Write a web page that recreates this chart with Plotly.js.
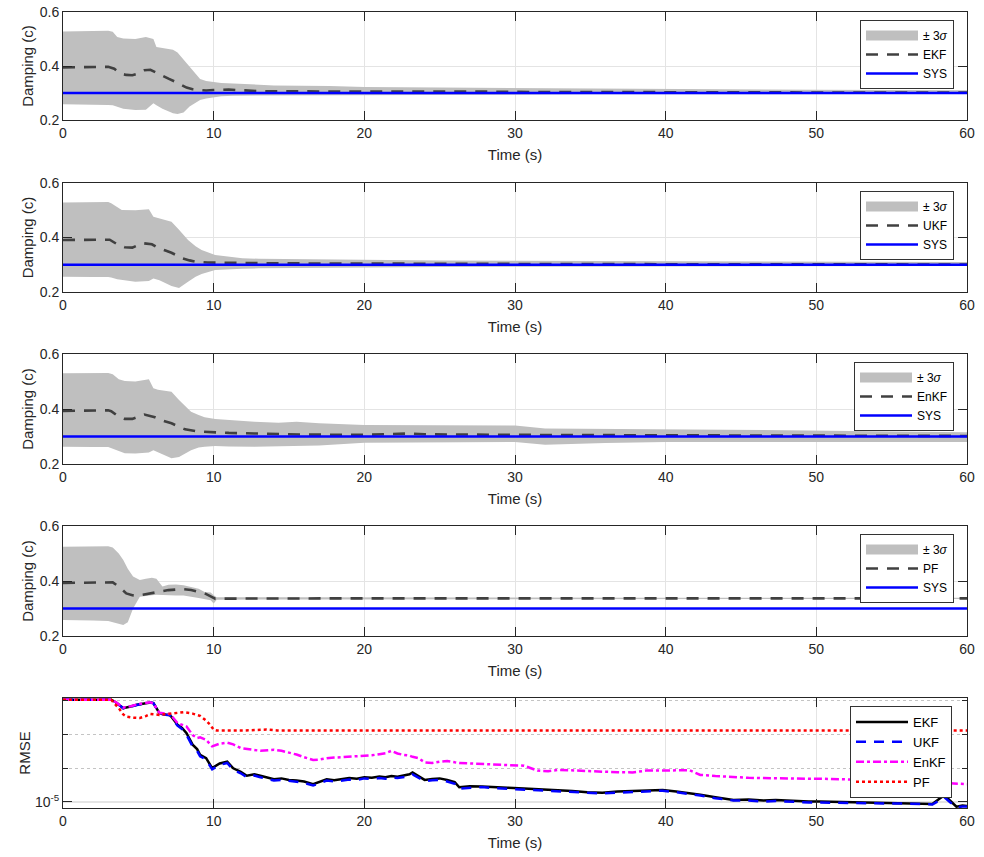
<!DOCTYPE html>
<html>
<head>
<meta charset="utf-8">
<script src="https://cdn.plot.ly/plotly-3.0.1.min.js"></script>
<style>html,body{margin:0;padding:0;background:#fff;}#chart{width:984px;height:857px;}</style>
</head>
<body>
<div id="chart"></div>
<script>
// ---------------- DATA ----------------
const sysTime = [0, 60];
const sysValue = [0.3, 0.3];

// Panel 1: EKF
const bandTime1 = [0,1,2,3,3.3,3.6,4.0,4.8,5.5,6.0,6.2,6.6,7.0,7.3,7.6,8.0,8.4,8.8,9.1,9.5,10.0,10.5,11.3,12.5,14,17.7,20,25,30,35,40,45,50,55,60];
const bandUpper1 = [0.528,0.529,0.530,0.531,0.527,0.507,0.502,0.500,0.507,0.500,0.470,0.466,0.464,0.460,0.450,0.423,0.395,0.368,0.352,0.344,0.340,0.337,0.335,0.331,0.328,0.326,0.322,0.320,0.318,0.316,0.314,0.313,0.312,0.311,0.310];
const bandLower1 = [0.258,0.257,0.257,0.256,0.255,0.248,0.242,0.237,0.238,0.262,0.255,0.242,0.232,0.225,0.222,0.228,0.250,0.265,0.274,0.280,0.285,0.288,0.290,0.291,0.292,0.293,0.293,0.294,0.294,0.295,0.295,0.296,0.296,0.296,0.297];
const estTime1 = [0,1,2,3,3.4,3.8,4.2,4.6,5.0,5.4,5.8,6.2,6.6,7.0,7.4,7.8,8.2,8.6,9.0,9.5,10,10.5,11,11.5,12,13,14,16,18,20,22,24,26,28,30,35,40,45,50,55,60];
const estEKF = [0.395,0.395,0.396,0.397,0.390,0.372,0.367,0.366,0.372,0.384,0.386,0.374,0.364,0.353,0.343,0.332,0.320,0.314,0.311,0.309,0.311,0.312,0.313,0.311,0.309,0.307,0.306,0.306,0.307,0.307,0.306,0.306,0.305,0.305,0.304,0.303,0.303,0.302,0.302,0.302,0.302];

// Panel 2: UKF
const bandTime2 = [0,1,2,3,3.2,3.6,3.9,4.8,5.7,6.0,6.4,7.2,7.7,8.3,8.8,9.2,10.1,11.0,11.9,13,16,20,25,30,35,40,45,50,55,60];
const bandUpper2 = [0.528,0.529,0.529,0.530,0.526,0.510,0.501,0.500,0.504,0.476,0.470,0.458,0.428,0.391,0.368,0.354,0.336,0.329,0.324,0.322,0.320,0.318,0.316,0.315,0.314,0.313,0.312,0.311,0.310,0.310];
const bandLower2 = [0.256,0.256,0.255,0.255,0.253,0.247,0.243,0.238,0.240,0.250,0.243,0.222,0.215,0.238,0.256,0.266,0.281,0.283,0.285,0.287,0.290,0.291,0.292,0.293,0.293,0.294,0.294,0.295,0.295,0.295];
const estTime2 = [0,1,2,3,3.1,3.6,4.1,4.6,5.0,5.3,5.9,6.3,6.8,7.2,7.6,7.9,8.4,8.8,9.6,11,12.8,15,20,25,30,40,50,60];
const estUKF = [0.391,0.391,0.392,0.393,0.392,0.375,0.364,0.363,0.372,0.379,0.375,0.362,0.352,0.344,0.333,0.324,0.316,0.311,0.308,0.308,0.306,0.305,0.305,0.304,0.303,0.302,0.302,0.301];

// Panel 3: EnKF
const bandTime3 = [0,1,2,3,3.3,3.7,4.1,4.8,5.7,6.0,6.3,7.2,7.7,8.1,8.5,9.0,9.4,10.1,11,12.7,14.3,15.5,17,20,24.7,30,32,36,40,45,49.5,55,60];
const bandUpper3 = [0.530,0.530,0.531,0.531,0.526,0.508,0.502,0.500,0.508,0.475,0.470,0.463,0.433,0.412,0.390,0.378,0.370,0.364,0.360,0.354,0.350,0.354,0.348,0.342,0.341,0.340,0.329,0.328,0.327,0.325,0.322,0.318,0.315];
const bandLower3 = [0.263,0.263,0.262,0.262,0.258,0.248,0.239,0.238,0.242,0.250,0.244,0.221,0.225,0.238,0.250,0.260,0.263,0.265,0.264,0.263,0.265,0.265,0.267,0.277,0.277,0.280,0.270,0.276,0.280,0.280,0.280,0.280,0.280];
const estTime3 = [0,1,2,3,3.2,3.6,4.1,4.6,5.0,5.4,6.1,6.6,7.2,7.6,8.1,9.0,10.1,11,12.7,16,20,22,23,24,27,30,35,40,50,60];
const estEnKF = [0.393,0.393,0.394,0.395,0.392,0.376,0.364,0.364,0.372,0.380,0.370,0.358,0.348,0.338,0.326,0.318,0.314,0.313,0.311,0.307,0.306,0.309,0.311,0.308,0.306,0.306,0.305,0.304,0.303,0.302];

// Panel 4: PF
const bandTime4 = [0,1,2,3,3.3,3.7,4.0,4.3,4.65,5.1,5.5,5.9,6.2,6.6,7.0,7.5,8.0,8.5,9.0,9.4,9.8,10.0,10.2,15,20,30,40,50,60];
const bandUpper4 = [0.525,0.525,0.526,0.526,0.522,0.500,0.476,0.445,0.416,0.404,0.408,0.412,0.408,0.380,0.386,0.387,0.385,0.378,0.372,0.360,0.358,0.348,0.341,0.341,0.340,0.340,0.339,0.339,0.339];
const bandLower4 = [0.258,0.257,0.256,0.255,0.252,0.245,0.240,0.250,0.300,0.343,0.345,0.348,0.350,0.350,0.348,0.347,0.347,0.343,0.338,0.335,0.330,0.318,0.332,0.333,0.334,0.334,0.335,0.335,0.335];
const estTime4 = [0,1,2,3,3.3,3.7,4.2,4.6,4.9,5.3,5.8,6.2,6.6,7.0,7.5,8.0,8.5,9.0,9.4,9.8,10.1,11,15,20,30,40,50,60];
const estPF = [0.393,0.393,0.394,0.395,0.395,0.380,0.355,0.348,0.347,0.350,0.355,0.360,0.365,0.367,0.369,0.370,0.367,0.361,0.355,0.344,0.336,0.336,0.337,0.337,0.337,0.337,0.337,0.337];

// Panel 5: RMSE (log scale)
const rmseTime = [0,1,2,3,3.2,3.5,4.0,4.5,4.9,5.4,
  5.8,6.0,6.4,6.8,7.1,7.6,7.9,8.2,8.6,8.9,
  9.1,9.5,9.9,10.4,10.9,11.3,11.8,12.2,12.7,13.1,
  13.6,14.0,14.5,15.0,15.5,16.0,16.6,17.0,17.5,18.0,
  18.5,19.0,19.5,20.0,20.5,21.0,21.4,21.8,22.2,22.6,
  23.0,23.2,23.6,24.0,24.5,25.0,25.5,26.0,26.3,27.0,
  27.8,28.5,29.5,30.6,31.5,32.2,32.9,33.8,34.8,35.8,
  36.8,37.8,38.7,39.8,40.7,41.6,42.3,43.3,44.5,45.5,
  46.5,47.3,48.5,49.5,50.2,51.5,52.5,53.1,54.5,55.5,
  56.5,57.2,57.7,58.1,58.5,58.9,59.3,59.7,60];
const rmseEKF = [8.10e-5,8.08e-5,8.10e-5,8.12e-5,8.10e-5,7.70e-5,6.82e-5,7.05e-5,7.31e-5,7.50e-5,
  7.67e-5,7.57e-5,6.15e-5,6.00e-5,5.94e-5,4.86e-5,4.55e-5,4.08e-5,3.23e-5,2.95e-5,
  2.62e-5,2.45e-5,2.00e-5,2.20e-5,2.28e-5,1.99e-5,1.85e-5,1.71e-5,1.76e-5,1.71e-5,
  1.64e-5,1.59e-5,1.62e-5,1.57e-5,1.55e-5,1.52e-5,1.44e-5,1.50e-5,1.59e-5,1.56e-5,
  1.60e-5,1.63e-5,1.61e-5,1.66e-5,1.64e-5,1.68e-5,1.66e-5,1.70e-5,1.68e-5,1.71e-5,
  1.76e-5,1.83e-5,1.70e-5,1.57e-5,1.60e-5,1.62e-5,1.57e-5,1.50e-5,1.35e-5,1.38e-5,
  1.37e-5,1.35e-5,1.34e-5,1.32e-5,1.30e-5,1.29e-5,1.28e-5,1.25e-5,1.22e-5,1.21e-5,
  1.24e-5,1.25e-5,1.27e-5,1.28e-5,1.24e-5,1.20e-5,1.16e-5,1.10e-5,1.04e-5,1.05e-5,
  1.03e-5,1.04e-5,1.02e-5,1.01e-5,1.01e-5,1.00e-5,0.99e-5,0.986e-5,0.98e-5,0.98e-5,
  0.97e-5,0.965e-5,0.96e-5,1.05e-5,1.15e-5,1.02e-5,0.908e-5,0.93e-5,0.92e-5];
const rmseUKF = [8.10e-5,8.08e-5,8.10e-5,8.12e-5,8.10e-5,7.70e-5,6.80e-5,7.02e-5,7.28e-5,7.48e-5,
  7.65e-5,7.55e-5,6.12e-5,5.96e-5,5.90e-5,4.78e-5,4.45e-5,3.95e-5,3.12e-5,2.85e-5,
  2.55e-5,2.38e-5,1.95e-5,2.14e-5,2.22e-5,1.93e-5,1.80e-5,1.66e-5,1.72e-5,1.66e-5,
  1.59e-5,1.55e-5,1.57e-5,1.53e-5,1.51e-5,1.48e-5,1.40e-5,1.46e-5,1.55e-5,1.52e-5,
  1.56e-5,1.58e-5,1.57e-5,1.62e-5,1.60e-5,1.63e-5,1.61e-5,1.65e-5,1.63e-5,1.66e-5,
  1.70e-5,1.76e-5,1.64e-5,1.53e-5,1.56e-5,1.57e-5,1.52e-5,1.45e-5,1.31e-5,1.34e-5,
  1.36e-5,1.33e-5,1.31e-5,1.29e-5,1.27e-5,1.26e-5,1.24e-5,1.22e-5,1.20e-5,1.19e-5,
  1.21e-5,1.23e-5,1.25e-5,1.26e-5,1.22e-5,1.18e-5,1.14e-5,1.08e-5,1.03e-5,1.03e-5,
  1.01e-5,1.02e-5,1.00e-5,0.99e-5,0.99e-5,0.98e-5,0.975e-5,0.97e-5,0.97e-5,0.97e-5,
  0.96e-5,0.955e-5,0.95e-5,1.02e-5,1.10e-5,0.99e-5,0.90e-5,0.91e-5,0.91e-5];
const rmseEnKF = [8.10e-5,8.08e-5,8.10e-5,8.12e-5,8.10e-5,7.72e-5,6.90e-5,7.10e-5,7.35e-5,7.55e-5,
  7.70e-5,7.50e-5,6.20e-5,6.10e-5,6.06e-5,5.03e-5,4.85e-5,4.69e-5,3.94e-5,3.70e-5,
  3.75e-5,3.56e-5,3.12e-5,3.30e-5,3.36e-5,3.25e-5,3.01e-5,2.95e-5,2.90e-5,2.85e-5,
  2.88e-5,2.91e-5,2.85e-5,2.75e-5,2.64e-5,2.50e-5,2.36e-5,2.38e-5,2.45e-5,2.48e-5,
  2.50e-5,2.53e-5,2.55e-5,2.57e-5,2.60e-5,2.66e-5,2.71e-5,2.85e-5,2.70e-5,2.62e-5,
  2.58e-5,2.52e-5,2.45e-5,2.25e-5,2.22e-5,2.28e-5,2.31e-5,2.25e-5,2.22e-5,2.20e-5,
  2.18e-5,2.16e-5,2.13e-5,2.10e-5,1.90e-5,1.88e-5,1.93e-5,1.90e-5,1.87e-5,1.86e-5,
  1.84e-5,1.83e-5,1.90e-5,1.92e-5,1.91e-5,1.91e-5,1.74e-5,1.70e-5,1.66e-5,1.64e-5,
  1.63e-5,1.62e-5,1.62e-5,1.61e-5,1.61e-5,1.60e-5,1.57e-5,1.57e-5,1.56e-5,1.54e-5,
  1.53e-5,1.50e-5,1.49e-5,1.48e-5,1.46e-5,1.47e-5,1.45e-5,1.44e-5,1.44e-5];
const pfTime = [0,1,2,3,3.2,3.5,3.7,4.0,4.2,4.6,5.1,5.5,5.8,6.4,6.9,7.3,8.0,8.6,9.1,9.5,9.8,10.0,10.2,12,13.5,14.2,20,30,40,50,60];
const rmsePF = [8.10e-5,8.08e-5,8.10e-5,8.12e-5,8.10e-5,7.30e-5,6.82e-5,6.00e-5,5.74e-5,5.62e-5,
  5.58e-5,5.80e-5,6.06e-5,5.94e-5,6.05e-5,6.15e-5,6.28e-5,6.10e-5,5.82e-5,5.30e-5,
  4.80e-5,4.38e-5,4.32e-5,4.32e-5,4.40e-5,4.32e-5,4.32e-5,4.32e-5,4.32e-5,4.32e-5,4.32e-5];

const rmseTickVals = [1e-5];
const rmseTickText = ['10<sup>-5</sup>'];
const rmseMinorVals = [2e-5, 4e-5, 8e-5];
const dampTickVals = [0.2, 0.4, 0.6];
const timeTickVals = [0, 10, 20, 30, 40, 50, 60];

// ---------------- STYLE / LAYOUT ----------------
const FONT = 'Liberation Sans, Arial, Helvetica, sans-serif';
const TXT = '#262626';
const W = 984, H = 857;
const panelPx = [[12,120],[183,292],[354,464],[526,636],[698,808]];
const xDom = [63/W, 967/W];
const GRAY = 'rgb(191,191,191)';

function yDom(i){ return [1 - panelPx[i][1]/H, 1 - panelPx[i][0]/H]; }

const traces = [];
const filterNames = ['EKF','UKF','EnKF','PF'];
const bands = [[bandTime1,bandUpper1,bandLower1],[bandTime2,bandUpper2,bandLower2],[bandTime3,bandUpper3,bandLower3],[bandTime4,bandUpper4,bandLower4]];
const ests = [[estTime1,estEKF],[estTime2,estUKF],[estTime3,estEnKF],[estTime4,estPF]];

for (let i = 0; i < 4; i++) {
  const xa = i === 0 ? 'x' : 'x' + (i+1);
  const ya = i === 0 ? 'y' : 'y' + (i+1);
  const lg = i === 0 ? 'legend' : 'legend' + (i+1);
  const [bt, bu, bl] = bands[i];
  traces.push({
    type:'scatter', mode:'lines', x: bt.concat(bt.slice().reverse()), y: bu.concat(bl.slice().reverse()),
    fill:'toself', fillcolor: GRAY, line:{width:0, color:GRAY}, name:'± 3<i>σ</i>',
    xaxis: xa, yaxis: ya, showlegend:false, hoverinfo:'skip'
  });
  // legend entry for the band (thick gray swatch)
  traces.push({
    type:'scatter', mode:'lines', x:[null], y:[null],
    line:{color:GRAY, width:13}, name:'± 3<i>σ</i>',
    xaxis: xa, yaxis: ya, legend: lg
  });
  traces.push({
    type:'scatter', mode:'lines', x: ests[i][0], y: ests[i][1],
    line:{color:'#404040', width:2.6, dash:'12px,9px'}, name: filterNames[i],
    xaxis: xa, yaxis: ya, legend: lg
  });
  traces.push({
    type:'scatter', mode:'lines', x: sysTime, y: sysValue,
    line:{color:'#0000ff', width:2.6}, name:'SYS',
    xaxis: xa, yaxis: ya, legend: lg
  });
}

traces.push({type:'scatter', mode:'lines', x: rmseTime, y: rmseEKF, name:'EKF',
  line:{color:'#000000', width:2.5}, xaxis:'x5', yaxis:'y5', legend:'legend5'});
traces.push({type:'scatter', mode:'lines', x: rmseTime, y: rmseUKF, name:'UKF',
  line:{color:'#0000ff', width:2.5, dash:'10px,8px'}, xaxis:'x5', yaxis:'y5', legend:'legend5'});
traces.push({type:'scatter', mode:'lines', x: rmseTime, y: rmseEnKF, name:'EnKF',
  line:{color:'#ff00ff', width:2.5, dash:'8px,3px,3px,3px'}, xaxis:'x5', yaxis:'y5', legend:'legend5'});
traces.push({type:'scatter', mode:'lines', x: pfTime, y: rmsePF, name:'PF',
  line:{color:'#ff0000', width:2.5, dash:'3px,3px'}, xaxis:'x5', yaxis:'y5', legend:'legend5'});

const layout = {
  width: W, height: H,
  margin: {l:0, r:0, t:0, b:0},
  paper_bgcolor:'#ffffff', plot_bgcolor:'#ffffff',
  font: {family: FONT, color: TXT, size: 14},
};

function xAxis(i){
  return {
    domain: xDom, anchor: i===0 ? 'y' : 'y'+(i+1), range:[0,60],
    tickmode:'array', tickvals: timeTickVals,
    ticks:'inside', ticklen:9, tickwidth:1, tickcolor:TXT,
    showline:true, linecolor:TXT, linewidth:1, mirror:'ticks',
    showgrid:true, gridcolor:'#e4e4e4', gridwidth:1, zeroline:false,
    tickfont:{family:FONT, size:14, color:TXT},
    title:{text:'Time (s)', font:{family:FONT, size:15, color:TXT}, standoff:9},
    automargin:false
  };
}
function yAxisDamp(i){
  return {
    domain: yDom(i), anchor: i===0 ? 'x' : 'x'+(i+1), range:[0.2,0.6],
    tickmode:'array', tickvals: dampTickVals, ticktext:['0.2','0.4','0.6'],
    ticks:'inside', ticklen:9, tickwidth:1, tickcolor:TXT,
    showline:true, linecolor:TXT, linewidth:1, mirror:'ticks',
    showgrid:true, gridcolor:'#e4e4e4', gridwidth:1, zeroline:false,
    tickfont:{family:FONT, size:14, color:TXT},
    title:{text:'Damping (c)', font:{family:FONT, size:15, color:TXT}, standoff:2},
    automargin:false
  };
}
for (let i = 0; i < 5; i++) {
  const xk = i===0 ? 'xaxis' : 'xaxis'+(i+1);
  const yk = i===0 ? 'yaxis' : 'yaxis'+(i+1);
  layout[xk] = xAxis(i);
  if (i < 4) layout[yk] = yAxisDamp(i);
}
layout.yaxis5 = {
  domain: yDom(4), anchor:'x5', type:'log', range:[-5.0535, -4.076],
  tickmode:'array', tickvals: rmseTickVals, ticktext: rmseTickText,
  ticks:'inside', ticklen:9, tickwidth:1, tickcolor:TXT,
  showline:true, linecolor:TXT, linewidth:1, mirror:'ticks',
  showgrid:true, gridcolor:'#e4e4e4', gridwidth:1.5, zeroline:false,
  minor:{tickmode:'array', tickvals: rmseMinorVals, ticks:'inside', ticklen:5, tickcolor:TXT,
         showgrid:true, gridcolor:'#c4c4c4', griddash:'dot', gridwidth:1},
  tickfont:{family:FONT, size:14, color:TXT},
  title:{text:'RMSE', font:{family:FONT, size:15, color:TXT}, standoff:0},
  automargin:false
};

function legendAt(i, fontSize, rightPx){
  return {
    x: rightPx/W, xanchor:'right', y: 1 - (panelPx[i][0]+8)/H, yanchor:'top',
    bgcolor:'#ffffff', bordercolor:'#333333', borderwidth:1,
    font:{family:FONT, size:fontSize, color:'#000000'},
    tracegroupgap:0, itemwidth:52, traceorder:'normal'
  };
}
layout.legend = legendAt(0, 12, 954);
layout.legend2 = legendAt(1, 12, 954);
layout.legend3 = legendAt(2, 12, 954);
layout.legend4 = legendAt(3, 12, 954);
layout.legend5 = legendAt(4, 13, 952);

Plotly.newPlot('chart', traces, layout, {displayModeBar:false, staticPlot:true});
</script>
</body>
</html>
